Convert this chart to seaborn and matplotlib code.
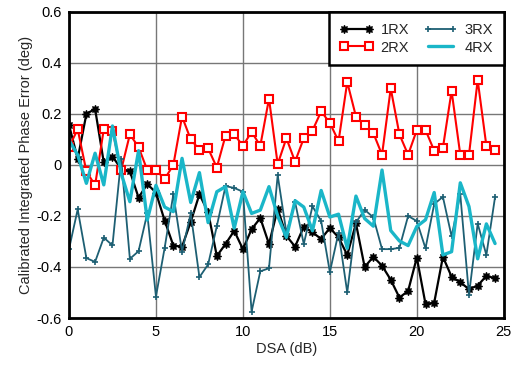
import numpy as np
import pandas as pd
import seaborn as sns
import matplotlib
matplotlib.use("Agg")
import matplotlib.pyplot as plt
from matplotlib.ticker import FuncFormatter

# DSA steps (dB) and calibrated phase error (deg) per receiver
dsa = np.arange(50) * 0.5

rx1 = [0.157, 0.024, 0.20, 0.22, 0.01, 0.033, -0.015, -0.024, -0.128, -0.075,
       -0.108, -0.218, -0.316, -0.32, -0.223, -0.115, -0.185, -0.357, -0.31, -0.258,
       -0.33, -0.252, -0.208, -0.31, -0.172, -0.278, -0.32, -0.242, -0.264, -0.29,
       -0.247, -0.284, -0.353, -0.229, -0.40, -0.36, -0.395, -0.45, -0.52, -0.494,
       -0.363, -0.545, -0.54, -0.36, -0.438, -0.46, -0.487, -0.473, -0.435, -0.444]
rx2 = [0.07, 0.14, -0.025, -0.08, 0.14, 0.135, -0.02, 0.12, 0.07, -0.02,
       -0.02, -0.055, 0.0, 0.19, 0.10, 0.06, 0.065, -0.01, 0.115, 0.12,
       0.075, 0.13, 0.075, 0.26, 0.003, 0.105, 0.013, 0.105, 0.135, 0.21,
       0.165, 0.093, 0.325, 0.19, 0.155, 0.125, 0.04, 0.30, 0.12, 0.04,
       0.137, 0.137, 0.056, 0.067, 0.29, 0.04, 0.04, 0.333, 0.075, 0.06]
rx3 = [-0.33, -0.174, -0.365, -0.38, -0.285, -0.315, 0.025, -0.368, -0.338, -0.19,
       -0.516, -0.325, -0.115, -0.34, -0.19, -0.44, -0.39, -0.24, -0.083, -0.09,
       -0.105, -0.575, -0.417, -0.405, -0.04, -0.265, -0.145, -0.31, -0.162, -0.22,
       -0.42, -0.265, -0.5, -0.225, -0.176, -0.205, -0.33, -0.33, -0.325, -0.2,
       -0.22, -0.327, -0.153, -0.125, -0.28, -0.115, -0.51, -0.23, -0.353, -0.125]
rx4 = [0.098, 0.039, -0.072, 0.046, -0.078, 0.153, -0.033, -0.144, 0.056, -0.216,
       -0.08, -0.165, -0.183, 0.026, -0.147, -0.03, -0.226, -0.105, -0.085, -0.248,
       -0.105, -0.19, -0.177, -0.085, -0.2, -0.284, -0.14, -0.165, -0.258, -0.1,
       -0.204, -0.193, -0.327, -0.122, -0.21, -0.24, -0.02, -0.257, -0.298, -0.316,
       -0.241, -0.215, -0.108, -0.353, -0.34, -0.07, -0.163, -0.368, -0.231, -0.308]

sns.set_style("white")
plt.rcParams['font.family'] = ['Liberation Sans', 'DejaVu Sans']
plt.rcParams['axes.unicode_minus'] = False

fig = plt.figure(figsize=(5.13, 3.67), dpi=100)
ax = fig.add_axes([0.1345, 0.1335, 0.8475, 0.834])

sns.lineplot(x=dsa, y=rx1, ax=ax, color='black', lw=1.6, marker=(8, 1, 0),
             markersize=6, markeredgecolor='black', markerfacecolor='black',
             markeredgewidth=0.8, label='1RX')
sns.lineplot(x=dsa, y=rx2, ax=ax, color='#ff0000', lw=1.5, marker='s',
             markersize=6, markeredgecolor='#ff0000', markerfacecolor='white',
             markeredgewidth=1.5, label='2RX')
sns.lineplot(x=dsa, y=rx3, ax=ax, color='#1d5f73', lw=1.3, marker='+',
             markersize=5, markeredgecolor='#1d5f73', markeredgewidth=1.2,
             label='3RX')
sns.lineplot(x=dsa, y=rx4, ax=ax, color='#1ab6c8', lw=2.4, label='4RX')

ax.set_xlim(0, 25)
ax.set_ylim(-0.6, 0.6)
ax.set_xticks([0, 5, 10, 15, 20, 25])
ax.set_yticks([-0.6, -0.4, -0.2, 0, 0.2, 0.4, 0.6])
ax.yaxis.set_major_formatter(FuncFormatter(lambda v, p: f"{v:g}"))
ax.grid(True, color='#777777', lw=1.0)
ax.set_axisbelow(True)
ax.tick_params(length=0, labelsize=10.5, pad=5, colors='black')
for s in ax.spines.values():
    s.set_color('black')
    s.set_linewidth(2)

ax.set_xlabel('DSA (dB)', fontsize=10.5, labelpad=2)
ax.set_ylabel('Calibrated Integrated Phase Error (deg)', fontsize=10.5, labelpad=3)

leg = ax.legend(ncol=2, loc='upper right', fontsize=10.5, numpoints=2,
                handlelength=2.3, columnspacing=1.0, handletextpad=0.5,
                borderaxespad=0, fancybox=False, framealpha=1,
                borderpad=0.75, labelspacing=0.25)
leg.get_frame().set_edgecolor('black')
leg.get_frame().set_linewidth(1.8)

fig.savefig('out.png', dpi=100)
